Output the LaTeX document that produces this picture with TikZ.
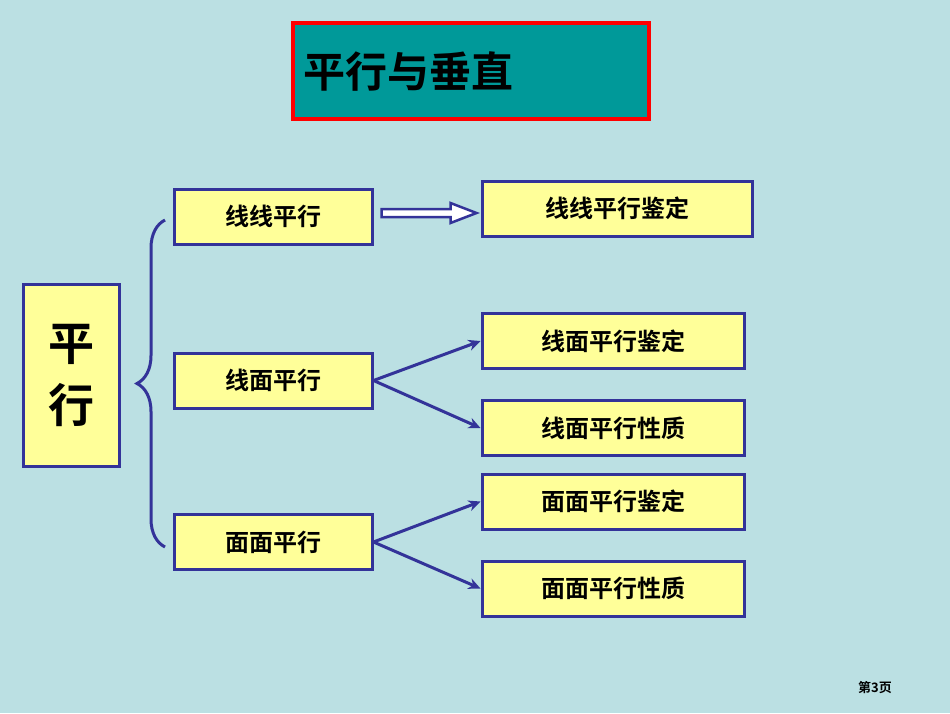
\documentclass[tikz,border=0pt]{standalone}
\usepackage{fontspec}
\newfontfamily\cjk{Noto Sans CJK SC Bold}
\usetikzlibrary{arrows.meta,decorations.pathreplacing,calc}
\definecolor{bgblue}{RGB}{187,224,227}
\definecolor{titleteal}{RGB}{0,153,153}
\definecolor{boxyellow}{RGB}{255,255,153}
\definecolor{boxblue}{RGB}{51,51,153}

\begin{document}
\begin{tikzpicture}[x=1pt,y=-1pt,
    box/.style={rectangle, draw=boxblue, line width=3pt, fill=boxyellow, minimum height=55pt, font=\cjk\fontsize{24}{26}\selectfont, inner sep=0pt},
    link/.style={draw=boxblue, line width=3pt, -{Stealth[length=12pt,width=11pt]}}
]

% Background
\fill[bgblue] (0,0) rectangle (950,713);

% Title
\node[rectangle, draw=red, line width=4pt, fill=titleteal, minimum width=356pt, minimum height=96pt, text=black] (title) at (471,71) {};
\node[font=\cjk\fontsize{42}{46}\selectfont, anchor=west] (titletext) at (300,71) {平行与垂直};

% Left box
\node[box, minimum width=96pt, minimum height=182pt, font=\cjk\fontsize{46}{62}\selectfont, align=center] (root) at (71,375) {平\\行};

% Middle boxes
\node[box, minimum width=198pt] (ll) at (273,216.5) {线线平行};
\node[box, minimum width=198pt] (lm) at (273,380.5) {线面平行};
\node[box, minimum width=198pt] (mm) at (273,542) {面面平行};

% Right boxes
\node[box, minimum width=270pt] (llj) at (617,208.5) {线线平行鉴定};
\node[box, minimum width=262pt] (lmj) at (613,341) {线面平行鉴定};
\node[box, minimum width=262pt] (lmx) at (613,428) {线面平行性质};
\node[box, minimum width=262pt] (mmj) at (613,501.5) {面面平行鉴定};
\node[box, minimum width=262pt] (mmx) at (613,588.5) {面面平行性质};

% Brace
\draw[boxblue, line width=3pt, decorate, decoration={brace, amplitude=28pt}] (165,547) -- (165,220);

% Connectors
\coordinate (hs) at ($(ll.east)+(8,-3.5)$);
\coordinate (he) at ($(llj.west)+(-4,4.5)$);
\draw[boxblue, line width=2.5pt, fill=white, line join=miter]
  ($(hs)+(0,-4)$) -- ($(he)+(-26,-4)$) -- ($(he)+(-26,-10)$) -- (he)
  -- ($(he)+(-26,10)$) -- ($(he)+(-26,4)$) -- ($(hs)+(0,4)$) -- cycle;
\draw[link] (lm.east) -- (lmj.west);
\draw[link] (lm.east) -- (lmx.west);
\draw[link] (mm.east) -- (mmj.west);
\draw[link] (mm.east) -- (mmx.west);

% Page number
\node[font=\cjk\fontsize{13}{15}\selectfont] (page) at (875,688) {第3页};

\end{tikzpicture}
\end{document}
